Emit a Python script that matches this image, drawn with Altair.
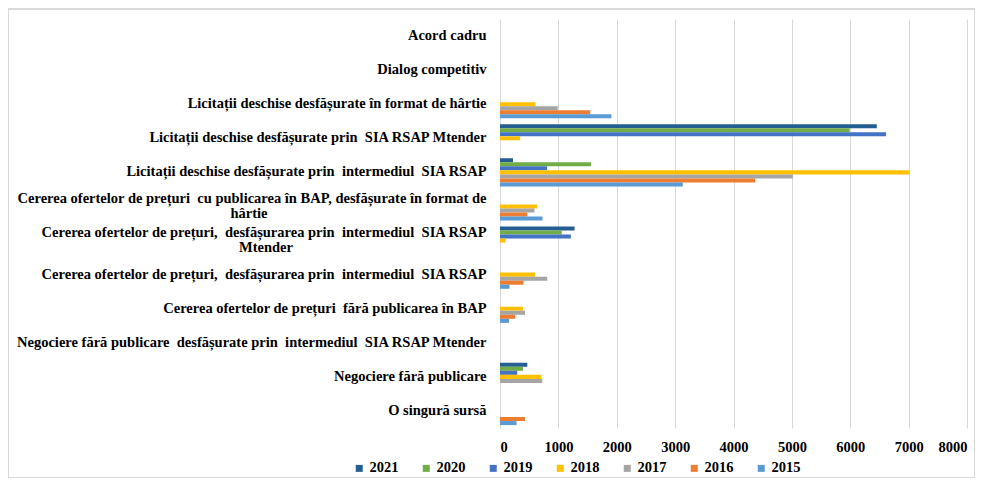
import altair as alt
import pandas as pd

NB = "\u00a0"

raw_categories = [
    "Acord cadru",
    "Dialog competitiv",
    "Licitații deschise desfășurate în format de hârtie",
    "Licitații deschise desfășurate prin  SIA RSAP Mtender",
    "Licitații deschise desfășurate prin  intermediul  SIA RSAP",
    "Cererea ofertelor de prețuri  cu publicarea în BAP, desfășurate în format de hârtie",
    "Cererea ofertelor de prețuri,  desfășurarea prin  intermediul  SIA RSAP Mtender",
    "Cererea ofertelor de prețuri,  desfășurarea prin  intermediul  SIA RSAP",
    "Cererea ofertelor de prețuri  fără publicarea în BAP",
    "Negociere fără publicare  desfășurate prin  intermediul  SIA RSAP Mtender",
    "Negociere fără publicare",
    "O singură sursă",
]
# keep the double spaces of the original labels visible in SVG
categories = [c.replace("  ", " " + NB) for c in raw_categories]

years = ["2021", "2020", "2019", "2018", "2017", "2016", "2015"]
colors = ["#255E91", "#70AD47", "#4472C4", "#FFC000", "#A5A5A5", "#ED7D31", "#5B9BD5"]

v2021 = [None, None, None, 6455, 223, None, 1277, None, None, None, 468, None]
v2020 = [None, None, None, 5990, 1560, None, 1058, None, None, None, 393, None]
v2019 = [None, None, None, 6613, 806, None, 1214, None, None, None, 295, None]
v2018 = [None, None, 609, 345, 7017, 636, 98, 601, 393, None, 711, None]
v2017 = [None, None, 989, None, 5017, 590, None, 809, 428, None, 723, None]
v2016 = [None, None, 1546, None, 4371, 468, None, 405, 260, None, None, 428]
v2015 = [None, None, 1908, None, 3131, 728, None, 162, 156, None, None, 283]

x_ticks = [0, 1000, 2000, 3000, 4000, 5000, 6000, 7000, 8000]

# wrapped labels: first line drawn by the axis (lifted), second line centred under it
first_lines = {
    categories[5]: "Cererea ofertelor de prețuri " + NB + "cu publicarea în BAP, desfășurate în format de",
    categories[6]: "Cererea ofertelor de prețuri, " + NB + "desfășurarea prin " + NB + "intermediul " + NB + "SIA RSAP",
}
second_lines = {categories[5]: "hârtie", categories[6]: "Mtender"}

series = dict(zip(years, [v2021, v2020, v2019, v2018, v2017, v2016, v2015]))
rows = []
for yr, vals in series.items():
    for cat, v in zip(categories, vals):
        if v is not None:
            rows.append({"cat": cat, "year": yr, "value": v})
df = pd.DataFrame(rows)

expr_parts = []
for k, l1 in first_lines.items():
    expr_parts.append(f"datum.label == '{k}' ? '{l1}' : ")
label_expr = "".join(expr_parts) + "datum.label"
wrapped_list = "[" + ",".join("'" + k + "'" for k in first_lines) + "]"
offset_test = f"indexof({wrapped_list}, datum.value) >= 0"

FONT = "Liberation Serif"
FS = 14.5

y_enc = alt.Y("cat:N", scale=alt.Scale(domain=categories, paddingInner=0.17, paddingOuter=0.085),
              axis=alt.Axis(title=None, domain=False, ticks=False, grid=False,
                            labelPadding=14, labelLimit=700, labelExpr=label_expr,
                            labelOffset={"condition": {"test": offset_test, "value": -7.5}, "value": 0}))

bars = alt.Chart(df).mark_bar().encode(
    x=alt.X("value:Q", scale=alt.Scale(domain=[0, 8000], nice=False),
            axis=alt.Axis(values=x_ticks, format="d", title=None, grid=True, gridColor="#D9D9D9",
                          domain=False, ticks=False, labelPadding=12)),
    y=y_enc,
    yOffset=alt.YOffset("year:N", scale=alt.Scale(domain=years)),
    color=alt.Color("year:N", scale=alt.Scale(domain=years, range=colors),
                    legend=alt.Legend(title=None, orient="none", direction="horizontal",
                                      columns=7, legendX=-148, legendY=442,
                                      symbolType="square", symbolSize=49,
                                      symbolStrokeWidth=0, labelOffset=3,
                                      columnPadding=20, labelFontSize=FS,
                                      labelFont=FONT, labelFontWeight="bold",
                                      labelColor="#000000")),
)

second_x = {categories[5]: -251, categories[6]: -234}
text_layers = []
for cat, txt in second_lines.items():
    tdf = pd.DataFrame({"cat": [cat], "txt": [txt]})
    text_layers.append(
        alt.Chart(tdf).mark_text(align="center", baseline="middle", dy=7.5, font=FONT,
                                 fontSize=FS, fontWeight="bold", color="#000000").encode(
            y=alt.Y("cat:N"), x=alt.value(second_x[cat]), text="txt:N")
    )

frame = alt.Chart(df).mark_rect(fill="transparent", stroke="#D9D9D9", strokeWidth=1).encode(
    x=alt.value(-491.5), x2=alt.value(474.5), y=alt.value(-10), y2=alt.value(458.5)
)

chart = alt.layer(frame, bars, *text_layers).properties(
    width=467, height=409,
    padding={"left": 492, "top": 11, "right": 8, "bottom": 50},
    autosize=alt.AutoSizeParams(type="none"),
).configure_view(stroke=None).configure_axis(
    labelFont=FONT, labelFontSize=FS, labelFontWeight="bold", labelColor="#000000"
)

chart.save("out.html", embed_options={"renderer": "svg", "actions": False})
